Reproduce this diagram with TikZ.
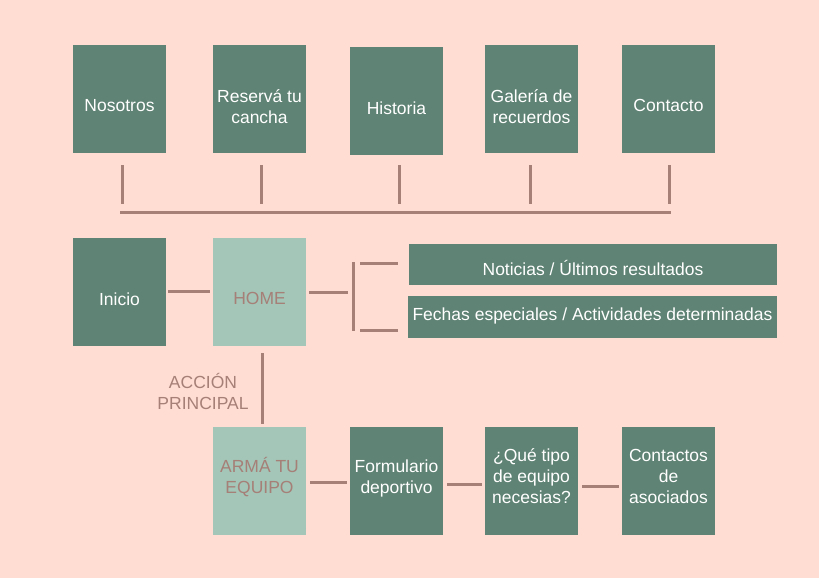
\documentclass[tikz,border=0pt]{standalone}
\usepackage{fontspec}
\setmainfont{Liberation Sans}
\definecolor{bg}{RGB}{255,221,210}
\definecolor{dk}{RGB}{95,131,116}
\definecolor{lt}{RGB}{163,198,184}
\definecolor{ln}{RGB}{166,127,119}
\tikzset{
  boxdk/.style={fill=dk, draw=none, inner sep=0},
  boxlt/.style={fill=lt, draw=none, inner sep=0},
  txtw/.style={text=white, align=center, font=\fontsize{17.5}{21}\selectfont, inner sep=0},
  txtb/.style={text=ln, align=center, font=\fontsize{17.5}{21}\selectfont, inner sep=0},
  conn/.style={draw=ln, line width=3pt},
}
\newcommand\mybox[8]{% name, x, y, w, h, boxstyle, textstyle+shift, text
  \node[#6, minimum width=#4, minimum height=#5] (#1) at (#2,#3) {};
  \node[#7] (#1t) at (#1.center) {#8};
}
\begin{document}
\begin{tikzpicture}[x=1pt,y=-1pt]
\fill[bg] (0,0) rectangle (819,578);
\useasboundingbox (0,0) rectangle (819,578);
% top row
\mybox{nos}{119.5}{99}{93}{108}{boxdk}{txtw,yshift=-6.5}{Nosotros}
\mybox{res}{259.5}{99}{93}{108}{boxdk}{txtw,yshift=-8}{Reservá tu\\cancha}
\mybox{his}{396.5}{101}{93}{108}{boxdk}{txtw,yshift=-7}{Historia}
\mybox{gal}{531.5}{99}{93}{108}{boxdk}{txtw,yshift=-8}{Galería de\\recuerdos}
\mybox{con}{668.5}{99}{93}{108}{boxdk}{txtw,yshift=-6.5}{Contacto}
% middle row
\mybox{ini}{119.5}{292}{93}{108}{boxdk}{txtw,yshift=-7.5}{Inicio}
\mybox{home}{259.5}{292}{93}{108}{boxlt}{txtb,yshift=-6.5}{HOME}
\node[boxdk, minimum width=368, minimum height=41] (not) at (593,264.5) {};
\node[txtw] (nott) at ([yshift=-3]not.center) {Noticias / Últimos resultados};
\node[boxdk, minimum width=369, minimum height=42] (fec) at (592.5,317) {};
\node[txtw] (fect) at ([yshift=1.5]fec.center) {Fechas especiales / Actividades determinadas};
% bottom row
\mybox{arm}{259.5}{481}{93}{108}{boxlt}{txtb,yshift=4}{ARMÁ TU\\EQUIPO}
\mybox{for}{396.5}{481}{93}{108}{boxdk}{txtw,yshift=3}{Formulario\\deportivo}
\mybox{que}{531.5}{481}{93}{108}{boxdk}{txtw,yshift=5}{¿Qué tipo\\de equipo\\necesias?}
\mybox{cas}{668.5}{481}{93}{108}{boxdk}{txtw,yshift=5}{Contactos\\de\\asociados}
\node[txtb] (acc) at (203,391) {ACCIÓN\\PRINCIPAL};
% top connectors
\foreach \n/\x in {nos/122, res/261, his/399, gal/530, con/669}{
  \draw[conn] (\x,165) -- (\x,204);
}
\coordinate (hl) at (120,212);
\coordinate (hr) at (671,212);
\draw[conn] (hl) -- (hr);
% middle connectors
\draw[conn] ([xshift=2,yshift=1]ini.east) -- ([xshift=-3,yshift=1]home.west);
\coordinate (brt) at (353,262);
\coordinate (brb) at (353,331);
\coordinate (bre) at (348,292);
\draw[conn] ([xshift=3]home.east) -- (bre);
\draw[conn] (brt) -- (brb);
\coordinate (t1a) at (360,263);
\coordinate (t1b) at (398,263);
\coordinate (t2a) at (360,330);
\coordinate (t2b) at (398,330);
\draw[conn] (t1a) -- (t1b);
\draw[conn] (t2a) -- (t2b);
% home to arma
\draw[conn] ([xshift=2.5,yshift=-7]home.south) -- ([xshift=2.5,yshift=3]arm.north);
% bottom connectors
\draw[conn] ([xshift=4,yshift=-1]arm.east) -- ([xshift=-3,yshift=-1]for.west);
\draw[conn] ([xshift=4,yshift=-3]for.east) -- ([xshift=-3,yshift=-3]que.west);
\draw[conn] ([xshift=4,yshift=-5]que.east) -- ([xshift=-3,yshift=-5]cas.west);
\end{tikzpicture}
\end{document}
